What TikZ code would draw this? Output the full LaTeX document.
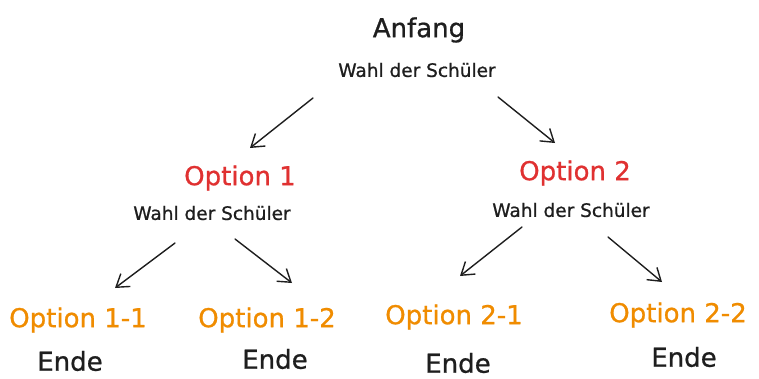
\documentclass[tikz,border=0pt]{standalone}
\usepackage{fontspec}
\setmainfont{DejaVu Sans}
\newfontfamily\handfont[FakeBold=0.8]{DejaVu Sans}
\usetikzlibrary{arrows.meta}
\definecolor{ink}{HTML}{1E1E1E}
\definecolor{optred}{HTML}{E03131}
\definecolor{optorange}{HTML}{F08C00}
\tikzset{
  big/.style={font=\handfont\fontsize{26}{30}\selectfont, text=ink, inner sep=0pt, anchor=center},
  small/.style={font=\handfont\fontsize{18.5}{22}\selectfont, text=ink, inner sep=0pt, anchor=center},
  lvlone/.style={big, text=optred},
  lvltwo/.style={big, text=optorange},
  conn/.style={draw=ink, line width=1.4pt, line cap=round,
    -{Straight Barb[length=12pt,width=16pt,line width=1.4pt]}},
}
\begin{document}
\begin{tikzpicture}[x=1pt,y=-1pt]
\useasboundingbox (0,0) rectangle (759,378);
\fill[white] (0,0) rectangle (759,378);

\node[big] (anfang) at (419,30) {Anfang};
\node[small] (wahl0) at (417,70) {Wahl der Schüler};

\node[lvlone] (opt1) at (240,178) {Option 1};
\node[small] (wahl1) at (212,213) {Wahl der Schüler};

\node[lvlone] (opt2) at (575,173) {Option 2};
\node[small] (wahl2) at (571,210) {Wahl der Schüler};

\node[lvltwo] (o11) at (78,320) {Option 1-1};
\node[lvltwo] (o12) at (267,320) {Option 1-2};
\node[lvltwo] (o21) at (454,317) {Option 2-1};
\node[lvltwo] (o22) at (678,315) {Option 2-2};

\node[big] (e11) at (70,361) {Ende};
\node[big] (e12) at (275,359) {Ende};
\node[big] (e21) at (458,363) {Ende};
\node[big] (e22) at (684,357) {Ende};

\coordinate (a1s) at (313,98);  \coordinate (a1e) at (250,148);
\coordinate (a2s) at (498,97);  \coordinate (a2e) at (555,143);
\coordinate (a3s) at (175,243); \coordinate (a3e) at (115,288);
\coordinate (a4s) at (235,239); \coordinate (a4e) at (292,283);
\coordinate (a5s) at (522,227); \coordinate (a5e) at (460,276);
\coordinate (a6s) at (608,237); \coordinate (a6e) at (662,282);

\draw[conn] (a1s) -- (a1e);
\draw[conn] (a2s) -- (a2e);
\draw[conn] (a3s) -- (a3e);
\draw[conn] (a4s) -- (a4e);
\draw[conn] (a5s) -- (a5e);
\draw[conn] (a6s) -- (a6e);
\end{tikzpicture}
\end{document}
